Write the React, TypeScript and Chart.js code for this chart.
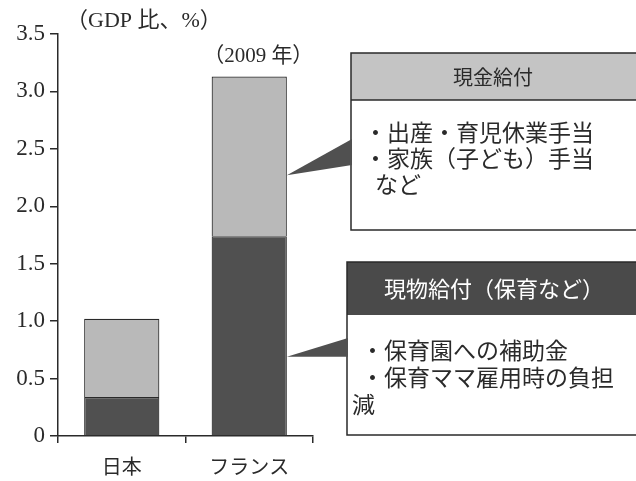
import React, { useEffect, useRef } from "react";
import { Chart, registerables } from "chart.js";

Chart.register(...registerables);

const categories = ["日本", "フランス"];
const inKind = [0.34, 1.74]; // 現物給付（保育など）
const cash = [0.68, 1.39]; // 現金給付
const yTicks = [0, 0.5, 1.0, 1.5, 2.0, 2.5, 3.0, 3.5];
const unitLabel = "（GDP 比、%）";
const yearLabel = "（2009 年）";
const cashTitle = "現金給付";
const cashLines = ["・出産・育児休業手当", "・家族（子ども）手当", "など"];
const kindTitle = "現物給付（保育など）";
const kindLines = ["・保育園への補助金", "・保育ママ雇用時の負担", "減"];
const cashCalloutValue = 2.27;
const kindCalloutValue = 0.69;

const SERIF = '"Liberation Serif", "Noto Sans CJK JP", serif';
const JP = '"Noto Sans CJK JP", "Noto Sans", sans-serif';
const LIGHT = "#b9b9b9";
const DARK = "#505050";
const INK = "#2a2a2a";

const annotations = {
  id: "annotations",
  afterDraw(chart: any) {
    const ctx = chart.ctx as CanvasRenderingContext2D;
    const y = chart.scales.y;
    const meta = chart.getDatasetMeta(0);
    const fr = meta.data[1] as any;
    const frRight = fr.x + fr.width / 2;
    ctx.save();
    // unit label
    ctx.fillStyle = INK;
    ctx.font = `22px ${SERIF}`;
    ctx.textBaseline = "middle";
    ctx.textAlign = "left";
    ctx.fillText(unitLabel, 66, 21);
    // year label
    ctx.textAlign = "center";
    ctx.font = `21px ${SERIF}`;
    ctx.fillText(yearLabel, fr.x + 9, 56);

    // box 1
    const b1 = { x: 351, y: 53, w: 300, h: 177, hh: 47 };
    ctx.fillStyle = "#ffffff";
    ctx.fillRect(b1.x, b1.y, b1.w, b1.h);
    ctx.fillStyle = "#c4c4c4";
    ctx.fillRect(b1.x, b1.y, b1.w, b1.hh);
    ctx.strokeStyle = INK;
    ctx.lineWidth = 1.5;
    ctx.strokeRect(b1.x, b1.y, b1.w, b1.h);
    ctx.beginPath();
    ctx.moveTo(b1.x, b1.y + b1.hh);
    ctx.lineTo(b1.x + b1.w, b1.y + b1.hh);
    ctx.stroke();
    ctx.fillStyle = INK;
    ctx.font = `20px ${JP}`;
    ctx.textAlign = "center";
    ctx.fillText(cashTitle, 493, b1.y + b1.hh / 2 + 1);
    ctx.textAlign = "left";
    ctx.font = `23px ${JP}`;
    ctx.fillText(cashLines[0], 364, 132);
    ctx.fillText(cashLines[1], 364, 158);
    ctx.fillText(cashLines[2], 375, 184);

    // wedge 1
    const t1 = y.getPixelForValue(cashCalloutValue);
    ctx.fillStyle = DARK;
    ctx.beginPath();
    ctx.moveTo(frRight, t1);
    ctx.lineTo(b1.x + 1, 139);
    ctx.lineTo(b1.x + 1, 165);
    ctx.closePath();
    ctx.fill();

    // box 2
    const b2 = { x: 347, y: 262, w: 300, h: 173, hh: 53 };
    ctx.fillStyle = "#ffffff";
    ctx.fillRect(b2.x, b2.y, b2.w, b2.h);
    ctx.fillStyle = "#4a4a4a";
    ctx.fillRect(b2.x, b2.y, b2.w, b2.hh);
    ctx.strokeStyle = INK;
    ctx.strokeRect(b2.x, b2.y, b2.w, b2.h);
    ctx.fillStyle = "#ffffff";
    ctx.font = `22px ${JP}`;
    ctx.textAlign = "center";
    ctx.fillText(kindTitle, 494, b2.y + b2.hh / 2);
    ctx.fillStyle = INK;
    ctx.textAlign = "left";
    ctx.font = `23px ${JP}`;
    ctx.fillText(kindLines[0], 361, 350);
    ctx.fillText(kindLines[1], 361, 377);
    ctx.fillText(kindLines[2], 352, 404);

    // wedge 2
    const t2 = y.getPixelForValue(kindCalloutValue);
    ctx.fillStyle = DARK;
    ctx.beginPath();
    ctx.moveTo(frRight, t2);
    ctx.lineTo(b2.x + 1, 338);
    ctx.lineTo(b2.x + 1, t2);
    ctx.closePath();
    ctx.fill();
    ctx.restore();
  },
};

export default function App() {
  const ref = useRef<HTMLCanvasElement>(null);
  useEffect(() => {
    if (!ref.current) return;
    const chart = new Chart(ref.current, {
      type: "bar",
      data: {
        labels: categories,
        datasets: [
          {
            label: "現物給付（保育など）",
            data: inKind,
            backgroundColor: DARK,
            borderColor: INK,
            borderWidth: 1.2,
            barPercentage: 0.59,
            categoryPercentage: 1,
          },
          {
            label: "現金給付",
            data: cash,
            backgroundColor: LIGHT,
            borderColor: INK,
            borderWidth: 1.2,
            barPercentage: 0.59,
            categoryPercentage: 1,
          },
        ],
      },
      options: {
        animation: false,
        responsive: false,
        layout: { padding: { top: 34, right: 323, left: 0, bottom: 0 } },
        plugins: { legend: { display: false }, tooltip: { enabled: false } },
        scales: {
          x: {
            stacked: true,
            offset: true,
            grid: {
              offset: true,
              drawOnChartArea: false,
              drawTicks: true,
              tickLength: 7,
              color: INK,
              lineWidth: 1.5,
            },
            border: { display: true, color: INK, width: 1.5 },
            ticks: {
              color: INK,
              font: { family: JP, size: 20 },
              padding: 11,
            },
            afterFit: (s: any) => {
              s.height = 45;
            },
          },
          y: {
            stacked: true,
            min: 0,
            max: 3.5,
            afterBuildTicks: (s: any) => {
              s.ticks = yTicks.map((v) => ({ value: v }));
            },
            grid: {
              drawOnChartArea: false,
              drawTicks: true,
              tickLength: 8,
              color: INK,
              lineWidth: 1.5,
            },
            border: { display: true, color: INK, width: 1.5 },
            ticks: {
              color: INK,
              font: { family: SERIF, size: 23 },
              padding: 5,
              callback: (v: any) => (Number(v) === 0 ? "0" : Number(v).toFixed(1)),
            },
            afterFit: (s: any) => {
              s.width = 58;
            },
          },
        },
      },
      plugins: [annotations],
    });
    return () => chart.destroy();
  }, []);
  return (
    <div style={{ position: "fixed", left: 0, top: 0, width: 636, height: 481, background: "#fff" }}>
      <canvas ref={ref} width={636} height={481} style={{ display: "block" }} />
    </div>
  );
}
